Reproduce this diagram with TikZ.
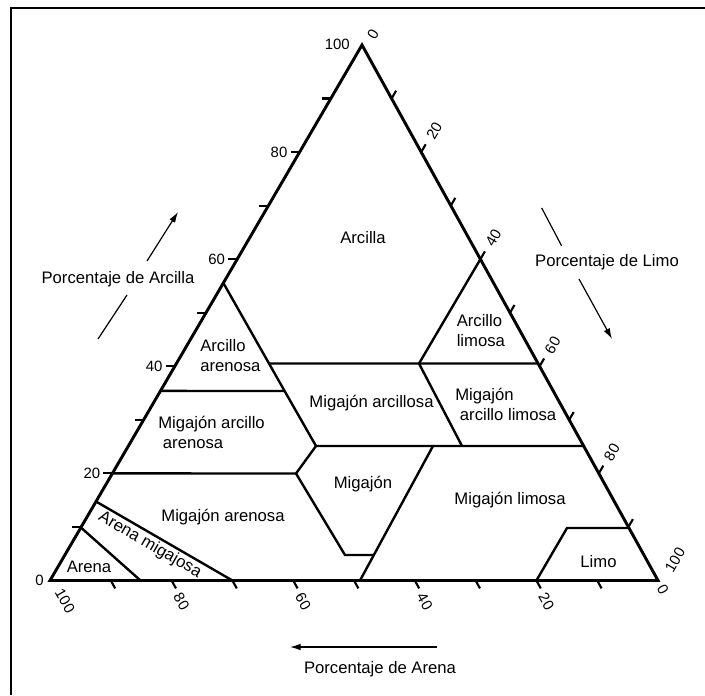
\documentclass[tikz,border=0pt]{standalone}
\usepackage{fontspec}
\setmainfont{Liberation Sans}
\usetikzlibrary{arrows.meta,calc}

\begin{document}
\begin{tikzpicture}[x=0.75pt,y=-0.75pt,
  frame/.style={line width=2pt},
  axis/.style={line width=2.2pt, line join=miter},
  zone/.style={line width=1.8pt, line join=miter},
  tickmark/.style={line width=1.6pt},
  pointer/.style={line width=0.9pt},
  pointerhead/.style={line width=0.9pt, -{Latex[length=8pt,width=5pt]}},
  lbl/.style={font=\fontsize{12.5}{15}\selectfont, inner sep=0pt, align=left},
  num/.style={font=\fontsize{11.2}{12}\selectfont, inner sep=0pt},
]
\useasboundingbox (0,0) rectangle (705,695);
\draw[frame] (11,695) -- (11,8) -- (705,8);

% triangle corners: L = 100 % arena, R = 100 % limo, A = 100 % arcilla
\coordinate (L) at (50,580.5);
\coordinate (R) at (658,580.5);
\coordinate (A) at (362,45);

% boundary points of the texture classes
\coordinate (l55) at ($(L)!0.5556!(A)$);
\coordinate (l35) at ($(L)!0.354!(A)$);
\coordinate (l20) at ($(L)!0.2!(A)$);
\coordinate (l15) at ($(L)!0.1475!(A)$);
\coordinate (l10) at ($(L)!0.099!(A)$);
\coordinate (r40) at ($(A)!0.4!(R)$);
\coordinate (r60) at ($(A)!0.5948!(R)$);
\coordinate (r73) at ($(A)!0.7488!(R)$);
\coordinate (r90) at ($(A)!0.902!(R)$);
\coordinate (s45top) at (269,363.5);
\coordinate (s45mid) at (284.6,391);
\coordinate (s45low) at (316,446);
\coordinate (s20top) at (419,363.5);
\coordinate (s20low) at (462,446);
\coordinate (m20) at (296,473.5);
\coordinate (m7a) at (345,555);
\coordinate (t50) at (433,446);
\coordinate (b50) at (360,580.5);
\coordinate (m7b) at ($(t50)!0.81!(b50)$);
\coordinate (lim1) at (567,528);
\coordinate (lim0) at (536.4,580.5);
\coordinate (b70) at (232.4,580.5);
\coordinate (b85) at (140.5,580.5);

% class boundaries
\draw[zone] (l55) -- (s45top) -- (s45mid) -- (s45low);
\draw[zone] (s45top) -- (s20top) -- (r40);
\draw[zone] (s20top) -- (r60);
\draw[zone] (s20top) -- (s20low);
\draw[zone] (l35) -- (s45mid);
\draw[zone] (s45low) -- (r73);
\draw[zone] (l20) -- (m20) -- (s45low);
\draw[zone] (m20) -- (m7a) -- (m7b);
\draw[zone] (t50) -- (b50);
\draw[zone] (lim0) -- (lim1) -- (r90);
\draw[zone] (l15) -- (b70);
\draw[zone] (l10) -- (b85);

% outline
\draw[axis] (L) -- (A) -- (R) -- cycle;

% ticks
\foreach \k in {1,...,9} {
  \draw[tickmark] ($(L)!\k/10!(A)$) -- ++(-9,0);
  \draw[tickmark] ($(A)!\k/10!(R)$) -- ++(4.5,-7.8);
  \draw[tickmark] ($(L)!\k/10!(R)$) -- ++(4.4,7.9);
}

% clay scale
\node[num, anchor=east] (c0) at ($(L)+(-6,0)$) {0};
\foreach \k in {20,40,60,80} {
  \node[num, anchor=east] (c\k) at ($(L)!\k/100!(A)+(-12,0)$) {\k};
}
\node[num, anchor=east] (c100) at ($(A)+(-12,-1)$) {100};

% silt scale
\node[num, rotate=60] (s0) at (373,34) {0};
\foreach \k in {20,40,60,80} {
  \node[num, rotate=60] (s\k) at ($(A)!\k/100!(R)+(13,-21)$) {\k};
}
\node[num, rotate=60] (s100) at (675,560) {100};

% sand scale
\node[num, rotate=-60] (a100) at (65,601) {100};
\foreach \k/\v in {20/80,40/60,60/40,80/20} {
  \node[num, rotate=-60] (a\v) at ($(L)!\k/100!(R)+(10,21)$) {\v};
}
\node[num, rotate=-60] (a0) at (663,590) {0};

% class names
\node[lbl] (arcilla) at (363,238) {Arcilla};
\node[lbl, anchor=north west] (arcar) at (200,339) {Arcillo\\arenosa};
\node[lbl, anchor=north west] (migarcar) at (158,416) {Migajón arcillo\\\hspace*{3.5pt}arenosa};
\node[lbl] (migarc) at (371.5,403) {Migajón arcillosa};
\node[lbl, anchor=north west] (arclim) at (456.5,314) {Arcillo\\limosa};
\node[lbl, anchor=north west] (migarclim) at (455,388) {Migajón\\\hspace*{3.5pt}arcillo limosa};
\node[lbl] (migajon) at (363,484) {Migajón};
\node[lbl] (migaren) at (223,517) {Migajón arenosa};
\node[lbl] (miglim) at (510,500) {Migajón limosa};
\node[lbl] (limo) at (598.5,562) {Limo};
\node[lbl] (arena) at (89,567) {Arena};
\node[lbl, rotate=-30] (arenamig) at (150,545) {Arena migajosa};

% axis titles and arrows
\node[lbl] (tarcilla) at (118,279) {Porcentaje de Arcilla};
\node[lbl] (tlimo) at (607,262) {Porcentaje de Limo};
\node[lbl] (tarena) at (380,669) {Porcentaje de Arena};

\coordinate (ca1) at (98,339);
\coordinate (ca2) at (127,295);
\coordinate (ca3) at (147,261);
\coordinate (ca4) at (178,212);
\draw[pointer] (ca1) -- (ca2);
\draw[pointerhead] (ca3) -- (ca4);

\coordinate (cl1) at (541.7,208);
\coordinate (cl2) at (561.7,246);
\coordinate (cl3) at (579,279);
\coordinate (cl4) at (612,339);
\draw[pointer] (cl1) -- (cl2);
\draw[pointerhead] (cl3) -- (cl4);

\coordinate (cs1) at (437,647);
\coordinate (cs2) at (290,647);
\draw[pointerhead] (cs1) -- (cs2);
\end{tikzpicture}
\end{document}
